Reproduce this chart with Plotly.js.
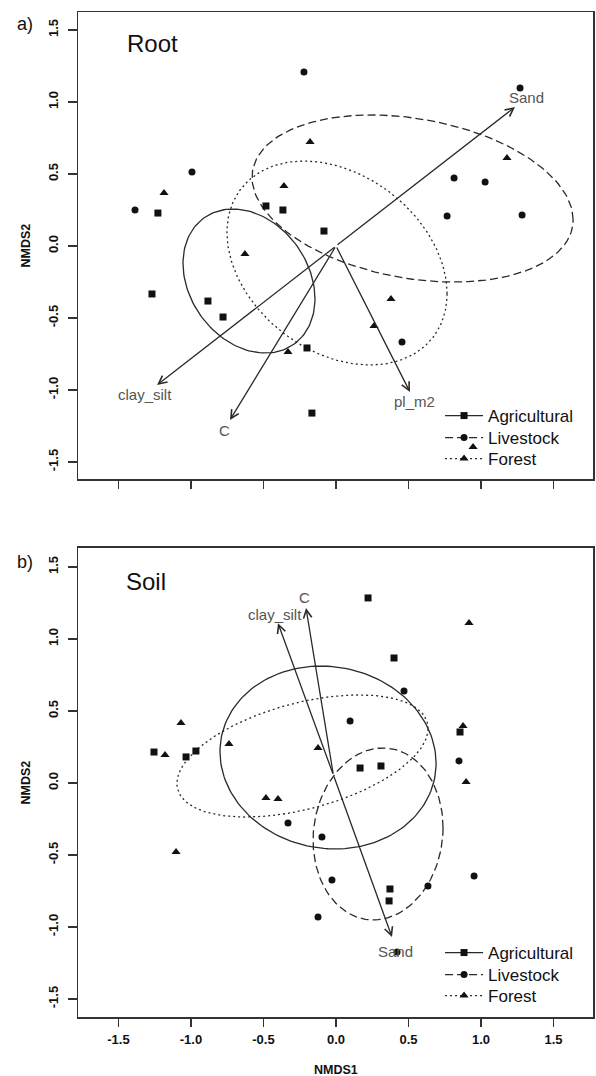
<!DOCTYPE html>
<html>
<head>
<meta charset="utf-8">
<script src="https://cdn.plot.ly/plotly-3.0.1.min.js"></script>
<style>html,body{margin:0;padding:0;background:#fff;}</style>
</head>
<body>
<div id="chart" style="width:596px;height:1076px;"></div>
<script>
// ---------- DATA ----------
var groups = ["Agricultural", "Livestock", "Forest"];
var tickVals = [-1.5, -1.0, -0.5, 0.0, 0.5, 1.0, 1.5];
var tickText = ["-1.5", "-1.0", "-0.5", "0.0", "0.5", "1.0", "1.5"];

// Root panel (a)
var rootAgriX = [-1.228, -0.483, -0.366, -0.083, -0.883, -0.779, -0.200, -1.269, -0.166];
var rootAgriY = [0.229, 0.278, 0.250, 0.104, -0.382, -0.493, -0.708, -0.333, -1.160];
var rootLiveX = [-1.386, -0.993, -0.221, 1.269, 0.814, 1.028, 0.766, 1.283, 0.455];
var rootLiveY = [0.250, 0.514, 1.208, 1.097, 0.472, 0.444, 0.208, 0.215, -0.667];
var rootForX = [-1.186, -0.359, -0.628, -0.179, 1.179, 0.379, 0.262, -0.331, 0.945];
var rootForY = [0.368, 0.417, -0.056, 0.722, 0.611, -0.368, -0.556, -0.736, -1.396];
// ellipses: [centerX, centerY, sdX, sdY, correlation]
var rootEllAgri = [-0.600, -0.243, 0.455, 0.500, -0.246];
var rootEllLive = [0.528, 0.330, 1.107, 0.580, -0.255];
var rootEllFor = [0.007, -0.118, 0.759, 0.708, -0.300];
// environmental vectors
var rootVecNames = ["Sand", "clay_silt", "C", "pl_m2"];
var rootVecStartX = [0, 0, 0, 0];
var rootVecStartY = [0, 0, 0, 0];
var rootVecX = [1.234, -1.234, -0.731, 0.510];
var rootVecY = [0.965, -0.965, -1.208, -1.014];
var rootLabX = [1.310, -1.317, -0.766, 0.538];
var rootLabY = [1.030, -1.030, -1.280, -1.080];

// Soil panel (b)
var soilAgriX = [-1.255, -1.034, -0.966, 0.221, 0.400, 0.855, 0.166, 0.310, 0.372, 0.366];
var soilAgriY = [0.215, 0.181, 0.222, 1.285, 0.868, 0.354, 0.104, 0.118, -0.736, -0.819];
var soilLiveX = [0.469, 0.097, 0.848, -0.331, -0.097, -0.028, -0.124, 0.634, 0.952, 0.421];
var soilLiveY = [0.639, 0.431, 0.153, -0.278, -0.375, -0.674, -0.931, -0.715, -0.646, -1.174];
var soilForX = [-1.069, -1.179, -0.738, 0.917, -0.124, 0.876, 0.897, -0.483, -0.400, -1.103];
var soilForY = [0.417, 0.194, 0.271, 1.111, 0.243, 0.396, 0.007, -0.104, -0.111, -0.479];
var soilEllAgri = [-0.055, 0.177, 0.745, 0.635, -0.064];
var soilEllLive = [0.290, -0.354, 0.448, 0.597, 0.073];
var soilEllFor = [-0.231, 0.1875, 0.866, 0.424, 0.450];
var soilVecNames = ["clay_silt", "C", "Sand"];
var soilVecStartX = [-0.018, -0.018, -0.018];
var soilVecStartY = [0.055, 0.055, 0.055];
var soilVecX = [-0.400, -0.207, 0.386];
var soilVecY = [1.110, 1.215, -1.070];
var soilLabX = [-0.420, -0.220, 0.407];
var soilLabY = [1.167, 1.285, -1.167];

// ---------- STYLE ----------
var FONT = "Liberation Sans, Arial, Helvetica, sans-serif";
var INK = "#111111";
var LINE = "#2a2a2a";
var symbols = ["square", "circle", "triangle-up"];
var msizes = [7, 7, 8];
var dashes = ["solid", "8px,4px", "2px,3px"];

function ellipse(p) {
  var xs = [], ys = [], n = 160;
  var s = Math.sqrt(1 - p[4] * p[4]);
  for (var i = 0; i <= n; i++) {
    var t = 2 * Math.PI * i / n;
    xs.push(p[0] + p[2] * Math.cos(t));
    ys.push(p[1] + p[3] * (p[4] * Math.cos(t) + s * Math.sin(t)));
  }
  return {x: xs, y: ys};
}

var traces = [];
var annotations = [];

function panel(xa, ya, pts, ells, legendNames, vec) {
  for (var g = 0; g < 3; g++) {
    var e = ellipse(ells[g]);
    traces.push({
      x: e.x, y: e.y, xaxis: xa, yaxis: ya, mode: "lines", showlegend: false, hoverinfo: "skip",
      line: {color: LINE, width: 1.3, dash: dashes[g]}
    });
  }
  for (var g2 = 0; g2 < 3; g2++) {
    traces.push({
      x: pts[g2][0], y: pts[g2][1], xaxis: xa, yaxis: ya, mode: "markers", showlegend: false,
      marker: {symbol: symbols[g2], size: msizes[g2], color: INK, line: {width: 0}}
    });
  }
  for (var g3 = 0; g3 < 3; g3++) {
    traces.push({
      x: [null], y: [null], xaxis: xa, yaxis: ya, mode: "lines+markers", name: groups[g3],
      legend: legendNames[g3], showlegend: true,
      line: {color: LINE, width: 1.3, dash: dashes[g3]},
      marker: {symbol: symbols[g3], size: msizes[g3], color: INK}
    });
  }
  for (var k = 0; k < vec.names.length; k++) {
    annotations.push({
      xref: xa, yref: ya, axref: xa, ayref: ya,
      x: vec.x[k], y: vec.y[k], ax: vec.sx[k], ay: vec.sy[k],
      text: "", showarrow: true, arrowhead: 5, arrowsize: 1.25, arrowwidth: 1.3,
      arrowcolor: LINE, standoff: 0, startstandoff: 0
    });
    annotations.push({
      xref: xa, yref: ya, x: vec.lx[k], y: vec.ly[k], text: vec.names[k],
      showarrow: false, xanchor: "center", yanchor: "middle",
      font: {family: FONT, size: 15, color: "#555555"}
    });
  }
}

panel("x", "y",
  [[rootAgriX, rootAgriY], [rootLiveX, rootLiveY], [rootForX, rootForY]],
  [rootEllAgri, rootEllLive, rootEllFor], ["legend", "legend2", "legend3"],
  {names: rootVecNames, x: rootVecX, y: rootVecY, sx: rootVecStartX, sy: rootVecStartY, lx: rootLabX, ly: rootLabY});
panel("x2", "y2",
  [[soilAgriX, soilAgriY], [soilLiveX, soilLiveY], [soilForX, soilForY]],
  [soilEllAgri, soilEllLive, soilEllFor], ["legend4", "legend5", "legend6"],
  {names: soilVecNames, x: soilVecX, y: soilVecY, sx: soilVecStartX, sy: soilVecStartY, lx: soilLabX, ly: soilLabY});

// panel texts
function txt(x, y, s, size, extra) {
  var a = {xref: "paper", yref: "paper", x: x, y: y, text: s, showarrow: false,
    xanchor: "center", yanchor: "middle", font: {family: FONT, size: size, color: INK}};
  for (var k in extra) a[k] = extra[k];
  annotations.push(a);
}
txt(0.0913, 0.969, "Root", 24, {xanchor: "left"});
txt(0.0893, 0.4338, "Soil", 24, {xanchor: "left"});
txt(-0.103, 0.988, "a)", 18, {});
txt(-0.103, 0.4527, "b)", 18, {});
txt(-0.101, 0.7677, "NMDS2", 12.5, {textangle: -90, font: {family: FONT, size: 12.5, color: INK, weight: "bold"}});
txt(-0.101, 0.2333, "NMDS2", 12.5, {textangle: -90, font: {family: FONT, size: 12.5, color: INK, weight: "bold"}});
txt(0.5, -0.0527, "NMDS1", 12.5, {font: {family: FONT, size: 12.5, color: INK, weight: "bold"}});

function xaxisDef(anchor, showLabels) {
  return {
    anchor: anchor, domain: [0, 1], range: [-1.779, 1.772],
    tickvals: tickVals, ticktext: tickText, showticklabels: showLabels,
    ticks: "outside", ticklen: 8, tickwidth: 1.3, tickcolor: "#333",
    tickfont: {family: FONT, size: 13, color: INK, weight: "bold"},
    ticklabelstandoff: 2,
    showgrid: false, zeroline: false, showline: true, mirror: true,
    linecolor: "#333", linewidth: 1.5, fixedrange: true
  };
}
function yaxisDef(anchor, domain, range) {
  return {
    anchor: anchor, domain: domain, range: range,
    tickvals: tickVals, ticktext: tickText, tickangle: -90,
    ticks: "outside", ticklen: 9, tickwidth: 1.3, tickcolor: "#333",
    tickfont: {family: FONT, size: 13, color: INK, weight: "bold"},
    ticklabelstandoff: 4,
    showgrid: false, zeroline: false, showline: true, mirror: true,
    linecolor: "#333", linewidth: 1.5, fixedrange: true
  };
}

// legend rows (paper y of each row's top)
var legendRowTops = [0.6159, 0.5940, 0.5731, 0.0816, 0.0597, 0.0388];
function legendDef(y) {
  return {
    x: 0.703, y: y, xanchor: "left", yanchor: "top", bgcolor: "rgba(0,0,0,0)", borderwidth: 0,
    font: {family: FONT, size: 17, color: INK}, tracegroupgap: 0, itemclick: false,
    itemwidth: 38
  };
}

var layout = {
  width: 596, height: 1076,
  margin: {l: 78, r: 3, t: 12, b: 59},
  paper_bgcolor: "#ffffff", plot_bgcolor: "#ffffff",
  font: {family: FONT, color: INK},
  showlegend: true,
  xaxis: xaxisDef("y", false),
  yaxis: yaxisDef("x", [0.5353, 1], [-1.618, 1.625]),
  xaxis2: xaxisDef("y2", true),
  yaxis2: yaxisDef("x2", [0, 0.4667], [-1.625, 1.632]),
  legend: legendDef(legendRowTops[0]),
  legend2: legendDef(legendRowTops[1]),
  legend3: legendDef(legendRowTops[2]),
  legend4: legendDef(legendRowTops[3]),
  legend5: legendDef(legendRowTops[4]),
  legend6: legendDef(legendRowTops[5]),
  annotations: annotations
};

Plotly.newPlot("chart", traces, layout, {displayModeBar: false, staticPlot: true});
</script>
</body>
</html>
